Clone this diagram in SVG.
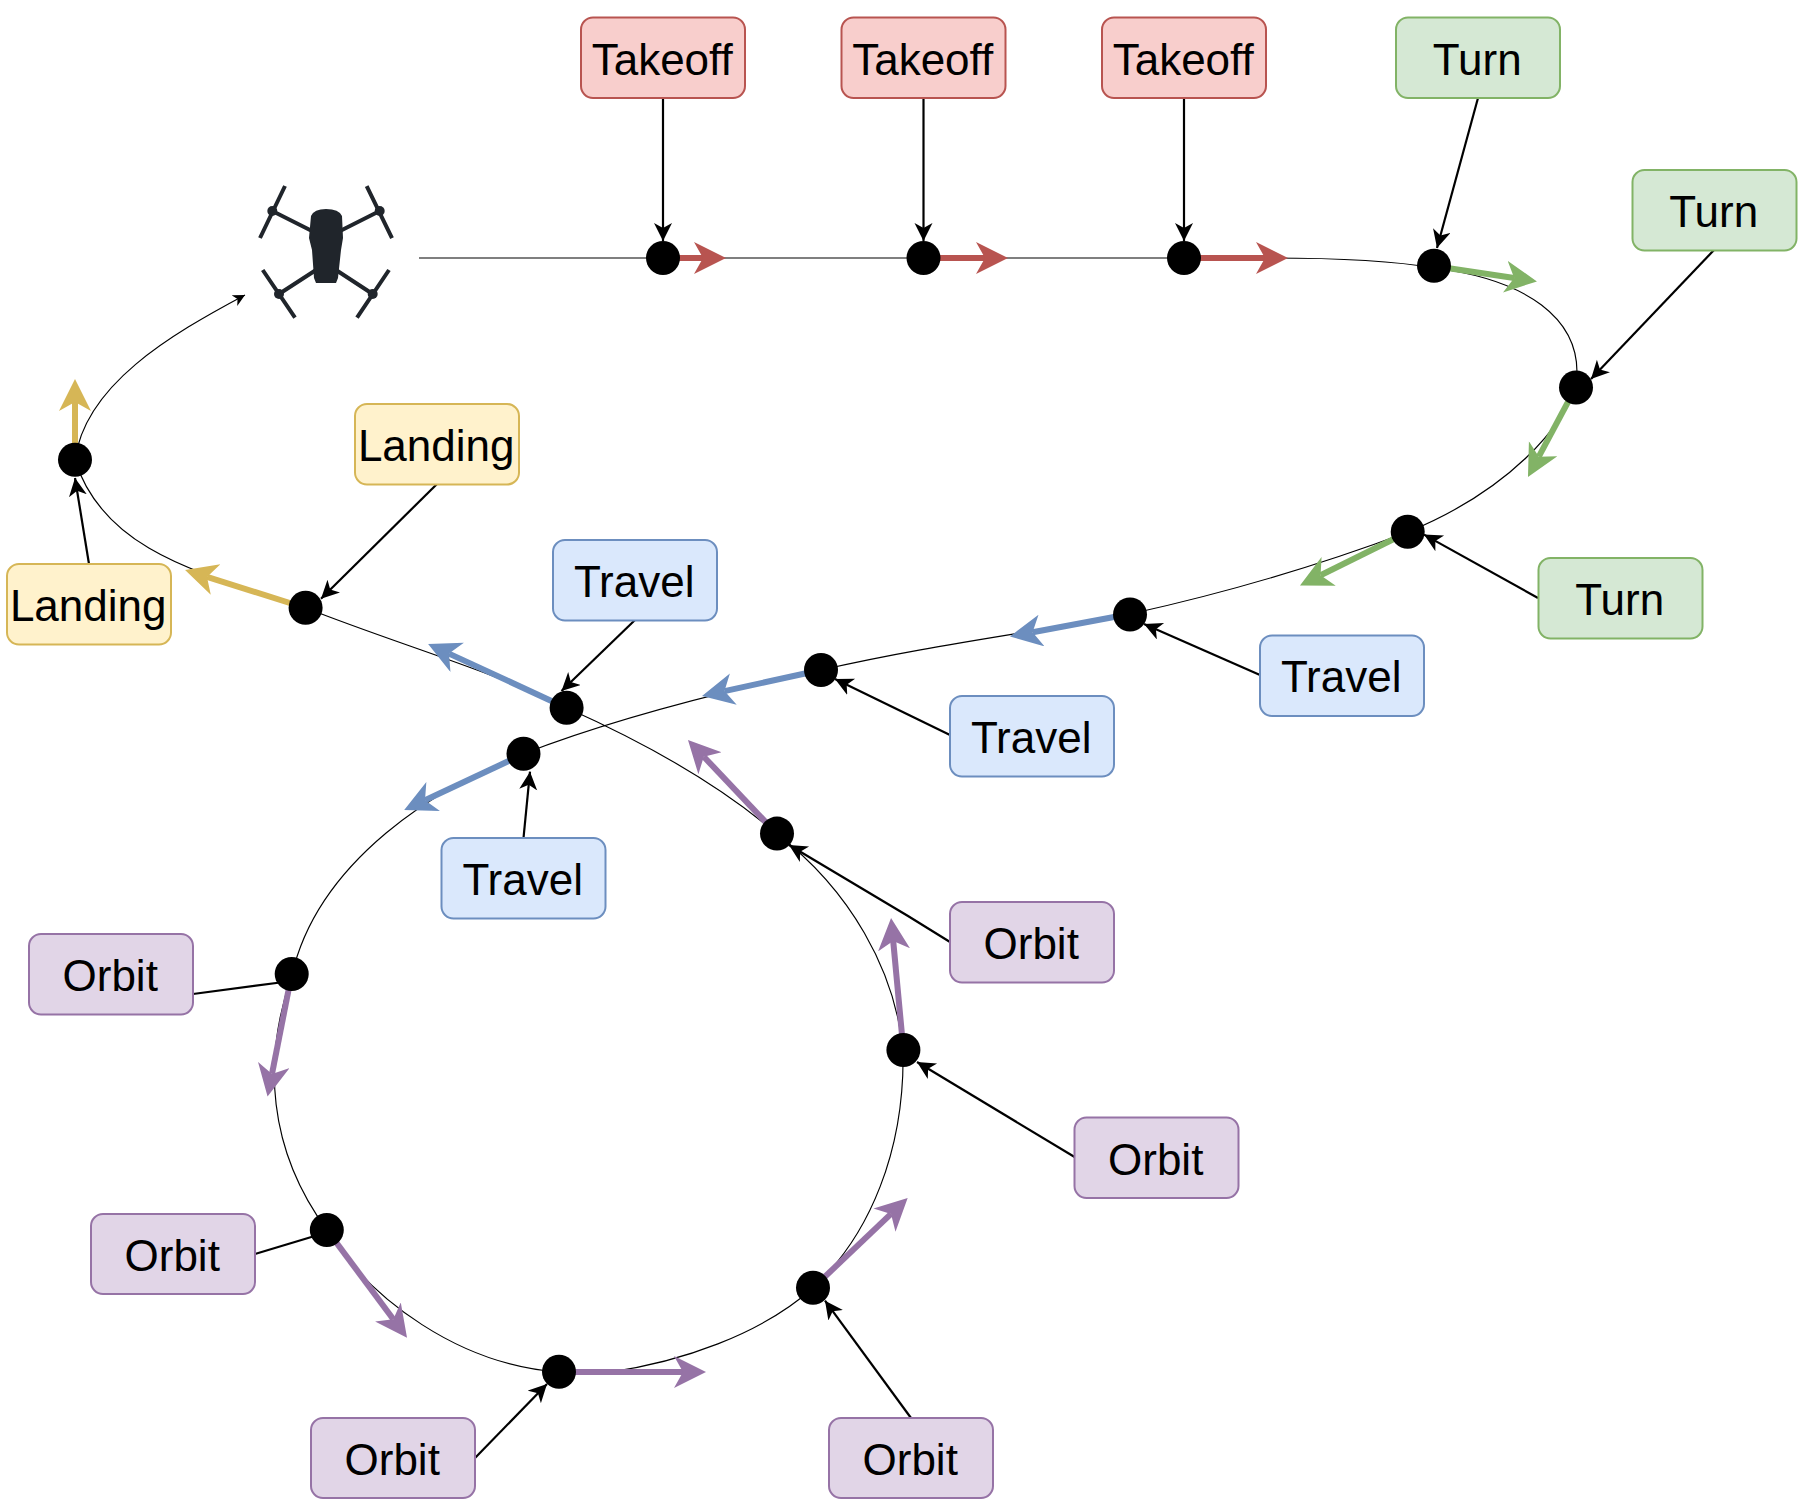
<svg xmlns="http://www.w3.org/2000/svg" width="1808" height="1506" viewBox="0 0 1808 1506">
<style>
.box{stroke-width:2;}
.t{font-family:"Liberation Sans",Arial,sans-serif;font-size:44px;text-anchor:middle;fill:#000;}
.main{fill:none;stroke:#000;stroke-width:1.15;}
.lead{fill:none;stroke:#000;stroke-width:2.2;marker-end:url(#mk);}
.plain{fill:none;stroke:#000;stroke-width:2.2;}
.dir{fill:none;stroke-width:6;}
.red{fill:#f8cecc;stroke:#b85450;}
.green{fill:#d5e8d4;stroke:#82b366;}
.yellow{fill:#fff2cc;stroke:#d6b656;}
.blue{fill:#dae8fc;stroke:#6c8ebf;}
.purple{fill:#e1d5e7;stroke:#9673a6;}
.dr{stroke:#b85450;marker-end:url(#mr);}
.dg{stroke:#82b366;marker-end:url(#mg);}
.dy{stroke:#d6b656;marker-end:url(#my);}
.db{stroke:#6c8ebf;marker-end:url(#mb);}
.dp{stroke:#9673a6;marker-end:url(#mp);}
.arm{stroke:#20252b;stroke-width:4;fill:none;}
</style>
<defs>
<marker id="mk" markerUnits="userSpaceOnUse" markerWidth="20" markerHeight="20" refX="18" refY="9" orient="auto"><path d="M0 0L18 9L0 18L5 9Z" fill="#000"/></marker>
<marker id="ms" markerUnits="userSpaceOnUse" markerWidth="14" markerHeight="14" refX="12" refY="6" orient="auto"><path d="M0 0L12 6L0 12L3.5 6Z" fill="#000"/></marker>
<marker id="mr" markerUnits="userSpaceOnUse" markerWidth="33" markerHeight="33" refX="9" refY="16" orient="auto"><path d="M0 0L32 16L0 32L9 16Z" fill="#b85450"/></marker>
<marker id="mg" markerUnits="userSpaceOnUse" markerWidth="33" markerHeight="33" refX="9" refY="16" orient="auto"><path d="M0 0L32 16L0 32L9 16Z" fill="#82b366"/></marker>
<marker id="my" markerUnits="userSpaceOnUse" markerWidth="33" markerHeight="33" refX="9" refY="16" orient="auto"><path d="M0 0L32 16L0 32L9 16Z" fill="#d6b656"/></marker>
<marker id="mb" markerUnits="userSpaceOnUse" markerWidth="33" markerHeight="33" refX="9" refY="16" orient="auto"><path d="M0 0L32 16L0 32L9 16Z" fill="#6c8ebf"/></marker>
<marker id="mp" markerUnits="userSpaceOnUse" markerWidth="33" markerHeight="33" refX="9" refY="16" orient="auto"><path d="M0 0L32 16L0 32L9 16Z" fill="#9673a6"/></marker>
</defs>
<g id="connectors">
<path class="main" style="marker-end:url(#ms)" d="M419 258H1270C1330 258 1390 260 1434 268C1530 280 1577 320 1577 372L1576 385C1565 425 1510 490 1408 532C1320 565 1230 592 1130 614C1030 633 930 645 821 670C720 692 610 720 523 754C440 785 318 860 292 975C262 1060 268 1150 327 1230C370 1300 460 1365 559 1372H610C680 1362 760 1335 813 1288C870 1235 905 1150 903 1050C895 970 850 890 777 834C720 785 650 745 567 708C490 670 400 645 306 608C210 575 105 555 75 460C85 385 170 335 245 295"/>
<path class="dir dr" d="M663 258H703"/>
<path class="dir dr" d="M923.5 258H985"/>
<path class="dir dr" d="M1184 258H1265"/>
<path class="dir dg" d="M1434 266L1514.2 278"/>
<path class="dir dg" d="M1576 387L1538.8 456.7"/>
<path class="dir dg" d="M1408 532L1320.6 575.3"/>
<path class="dir db" d="M1130 614L1032.6 632.2"/>
<path class="dir db" d="M821 670L724.5 691.1"/>
<path class="dir db" d="M566.6 708L449 653.6"/>
<path class="dir db" d="M523.5 754L425 800.3"/>
<path class="dir dy" d="M305.6 608L207 576.9"/>
<path class="dir dy" d="M75 460V402"/>
<path class="dir dp" d="M777 834L703.8 756.7"/>
<path class="dir dp" d="M903.4 1050L893.2 940.9"/>
<path class="dir dp" d="M291.7 974L272 1073.9"/>
<path class="dir dp" d="M327 1230L393.3 1319.2"/>
<path class="dir dp" d="M559 1372H683"/>
<path class="dir dp" d="M813 1288L891 1213.9"/>
<path class="lead" d="M663 98V241"/>
<path class="lead" d="M923.5 98V241"/>
<path class="lead" d="M1184 98V241"/>
<path class="lead" d="M1478 98L1437 248"/>
<path class="lead" d="M1714 250L1591 379"/>
<path class="lead" d="M1538 598L1424 534.6"/>
<path class="lead" d="M1260 675L1144 624"/>
<path class="lead" d="M950 735L835 679"/>
<path class="lead" d="M635 620L561.5 691"/>
<path class="lead" d="M523.6 837L530 771.7"/>
<path class="lead" d="M437 484L321 598.7"/>
<path class="lead" d="M89 564L75 478"/>
<path class="lead" d="M950 942L908 916L789 845"/>
<path class="lead" d="M1074.6 1157L917 1062"/>
<path class="plain" d="M193 994L284 982"/>
<path class="plain" d="M255 1254L318 1235"/>
<path class="lead" d="M475 1458L547 1384"/>
<path class="lead" d="M911 1418L825 1300.7"/>
</g>
<g id="drone">
<path class="arm" d="M285 186L260 238M366.7 186L392 238M262.7 270L295 317.7M389 270L357 317.7M272.3 211L312 231M379.7 211L340 231M279 294L316 270M372.7 294L336 270"/>
<circle cx="272.3" cy="211" r="5" fill="#20252b"/><circle cx="379.7" cy="211" r="5" fill="#20252b"/><circle cx="279" cy="294" r="5" fill="#20252b"/><circle cx="372.7" cy="294" r="5" fill="#20252b"/>
<path fill="#20252b" d="M311 216Q314 209 326 209Q339 209 342 216L343 238L341 250L338 278L336 283H316L314 278L312 250L309 238Z"/>
</g>
<g id="dots" fill="#000">
<circle id="d1" cx="663" cy="258" r="17"/><circle id="d2" cx="923.5" cy="258" r="17"/><circle id="d3" cx="1184" cy="258" r="17"/><circle id="d4" cx="1434" cy="265.7" r="17"/><circle id="d5" cx="1576" cy="387.5" r="17"/><circle id="d6" cx="1407.7" cy="531.8" r="17"/><circle id="d7" cx="1130" cy="614.5" r="17"/><circle id="d8" cx="821" cy="670" r="17"/><circle id="d9" cx="566.6" cy="707.7" r="17"/><circle id="d10" cx="523.5" cy="753.7" r="17"/><circle id="d11" cx="305.6" cy="607.7" r="17"/><circle id="d12" cx="75" cy="459.7" r="17"/><circle id="d13" cx="777" cy="833.6" r="17"/><circle id="d14" cx="903.4" cy="1050" r="17"/><circle id="d15" cx="291.7" cy="974" r="17"/><circle id="d16" cx="326.8" cy="1230" r="17"/><circle id="d17" cx="559" cy="1371.7" r="17"/><circle id="d18" cx="813" cy="1287.7" r="17"/>
</g>
<g id="n1"><rect class="box red" x="581" y="17.5" width="164" height="80.5" rx="12"/><text class="t" x="662.2" y="74.5">Takeoff</text></g>
<g id="n2"><rect class="box red" x="841.5" y="17.5" width="164" height="80.5" rx="12"/><text class="t" x="922.7" y="74.5">Takeoff</text></g>
<g id="n3"><rect class="box red" x="1102" y="17.5" width="164" height="80.5" rx="12"/><text class="t" x="1183.2" y="74.5">Takeoff</text></g>
<g id="n4"><rect class="box green" x="1396" y="17.5" width="164" height="80.5" rx="12"/><text class="t" x="1477.2" y="74.5">Turn</text></g>
<g id="n5"><rect class="box green" x="1632.5" y="170" width="164" height="80.5" rx="12"/><text class="t" x="1713.7" y="227">Turn</text></g>
<g id="n6"><rect class="box green" x="1538.5" y="558" width="164" height="80.5" rx="12"/><text class="t" x="1619.7" y="615">Turn</text></g>
<g id="n7"><rect class="box blue" x="1260" y="635.5" width="164" height="80.5" rx="12"/><text class="t" x="1341.2" y="692">Travel</text></g>
<g id="n8"><rect class="box blue" x="950" y="696" width="164" height="80.5" rx="12"/><text class="t" x="1031.2" y="752.5">Travel</text></g>
<g id="n9"><rect class="box blue" x="553" y="540" width="164" height="80.5" rx="12"/><text class="t" x="634.2" y="597">Travel</text></g>
<g id="n10"><rect class="box blue" x="441.5" y="838" width="164" height="80.5" rx="12"/><text class="t" x="522.7" y="894.5">Travel</text></g>
<g id="n11"><rect class="box yellow" x="355" y="404" width="164" height="80.5" rx="12"/><text class="t" x="436.2" y="461">Landing</text></g>
<g id="n12"><rect class="box yellow" x="7" y="564" width="164" height="80.5" rx="12"/><text class="t" x="88.2" y="621">Landing</text></g>
<g id="n13"><rect class="box purple" x="950" y="902" width="164" height="80.5" rx="12"/><text class="t" x="1031.2" y="959">Orbit</text></g>
<g id="n14"><rect class="box purple" x="1074.5" y="1117.5" width="164" height="80.5" rx="12"/><text class="t" x="1155.7" y="1174.5">Orbit</text></g>
<g id="n15"><rect class="box purple" x="29" y="934" width="164" height="80.5" rx="12"/><text class="t" x="110.2" y="991">Orbit</text></g>
<g id="n16"><rect class="box purple" x="91" y="1214" width="164" height="80" rx="12"/><text class="t" x="172.2" y="1271">Orbit</text></g>
<g id="n17"><rect class="box purple" x="311" y="1418" width="164" height="80" rx="12"/><text class="t" x="392.2" y="1475">Orbit</text></g>
<g id="n18"><rect class="box purple" x="829" y="1418" width="164" height="80" rx="12"/><text class="t" x="910.2" y="1475">Orbit</text></g>
</svg>
